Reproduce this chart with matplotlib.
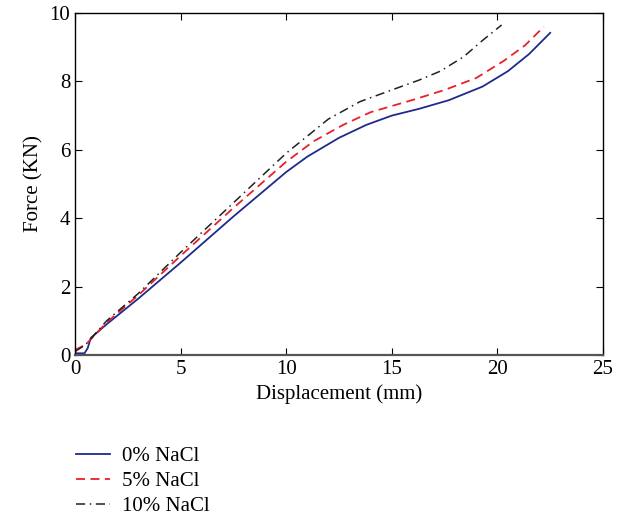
import numpy as np
from matplotlib import pyplot as plt

plt.rcParams['font.family'] = ['Liberation Serif', 'DejaVu Serif']

# curves
x0 = [0, 0.45, 0.6, 0.75, 1.5, 3, 5, 7.5, 10, 11, 12.5, 13.8, 15, 16.3, 17.7, 19.3, 20.5, 21.5, 22.5]
y0 = [0.05, 0.05, 0.2, 0.5, 0.9, 1.65, 2.7, 4.05, 5.35, 5.8, 6.35, 6.73, 7.0, 7.2, 7.45, 7.85, 8.3, 8.8, 9.42]

x5 = [0, 0.5, 1.5, 3, 5, 7.5, 10, 11.3, 12.7, 14, 16, 17.5, 19, 20.3, 21.3, 22.2]
y5 = [0.15, 0.3, 0.95, 1.75, 2.9, 4.3, 5.65, 6.25, 6.73, 7.1, 7.46, 7.75, 8.1, 8.6, 9.05, 9.6]

x10 = [0, 0.5, 1.5, 3, 5, 7.5, 10, 12, 13.5, 15, 16.3, 17.3, 18.4, 19.3, 20.2]
y10 = [0.1, 0.3, 1.0, 1.8, 3.0, 4.45, 5.9, 6.9, 7.41, 7.75, 8.04, 8.3, 8.72, 9.2, 9.65]

labels = ['0% NaCl', '5% NaCl', '10% NaCl']

fig = plt.figure(figsize=(6.23, 5.2), dpi=100)
ax = fig.add_axes([75/623, 1-355/520, 528/623, 342/520])

l1, = ax.plot(x0, y0, color='#1f2a8c', linestyle='-', linewidth=1.3)
l2, = ax.plot(x5, y5, color='#e8202a', linestyle=(0, (5, 3)), linewidth=1.3)
l3, = ax.plot(x10, y10, color='#222222', linestyle=(0, (6, 3, 1, 3)), linewidth=1.1)

ax.set_xlim(0, 25)
ax.set_ylim(0, 10)
ax.set_xticks([0, 5, 10, 15, 20, 25])
ax.set_yticks([0, 2, 4, 6, 8, 10])
ax.tick_params(direction='in', top=True, right=True, labelsize=15, length=5)
ax.set_xlabel('Displacement (mm)', fontsize=15)
ax.set_ylabel('Force (KN)', fontsize=15)
for s in ax.spines.values():
    s.set_linewidth(1.0)
ax.spines['bottom'].set_color('#555555')
ax.spines['bottom'].set_linewidth(1.6)

fig.legend([l1, l2, l3], labels, loc='upper left', bbox_to_anchor=(57/623, 1-428/520),
           frameon=False, fontsize=15, handlelength=1.65, labelspacing=0.25, handletextpad=0.55)

plt.savefig('out.png', dpi=100)
